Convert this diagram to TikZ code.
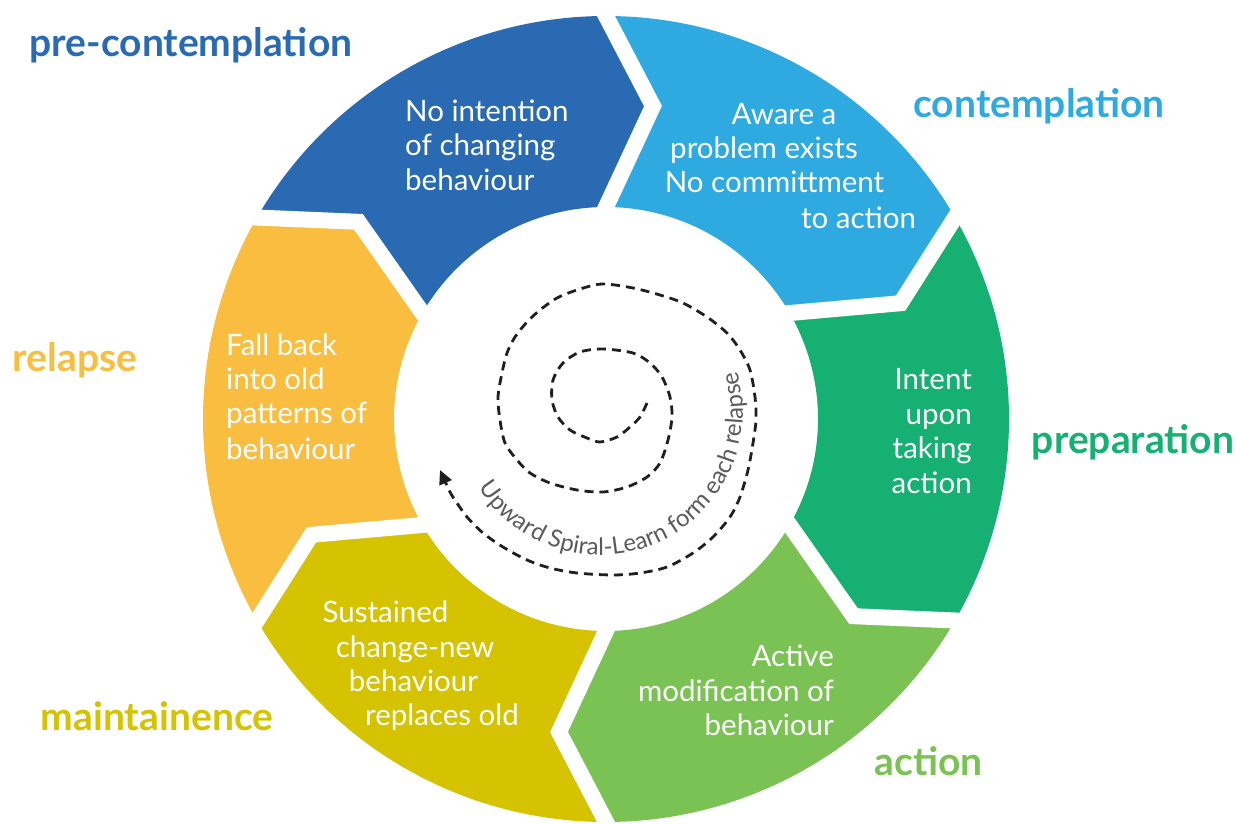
\documentclass[tikz,border=0pt]{standalone}
\usepackage{fontspec}
\setmainfont{Lato}
\usetikzlibrary{arrows.meta,decorations.text}
\definecolor{cPre}{RGB}{41,106,178}
\definecolor{cCon}{RGB}{46,170,225}
\definecolor{cPrep}{RGB}{21,176,114}
\definecolor{cAct}{RGB}{123,194,85}
\definecolor{cMain}{RGB}{213,194,0}
\definecolor{cRel}{RGB}{249,190,64}
\definecolor{spiralgray}{RGB}{90,90,92}
\begin{document}
\begin{tikzpicture}[x=1pt,y=1pt,
  body/.style={text=white, font=\fontsize{29.5}{34}\selectfont, inner sep=0pt},
  stage/.style={font=\fontsize{39}{44}\selectfont\bfseries, inner sep=0pt},
  gapline/.style={white, line width=16pt, line join=miter, miter limit=10},
  spiral/.style={black!88, line width=2.8pt, dash pattern=on 9pt off 6pt}]
\path[use as bounding box] (0,0) rectangle (1236,823);
% ring segments
\begin{scope}[shift={(606,404)}]
 \foreach \ps/\pe/\col in {60/0/cPre, 0/-60/cCon, -60/-120/cPrep, -120/-180/cAct, -180/-240/cMain, -240/-300/cRel}{
   \fill[\col] (90+\ps:403pt) arc[start angle=90+\ps, end angle=90+\pe, radius=403pt]
     -- (81.46+\pe:316.5pt) -- (90+\pe:212pt)
     arc[start angle=90+\pe, end angle=90+\ps, radius=212pt]
     -- (81.46+\ps:316.5pt) -- cycle;
 }
 \foreach \p in {0,-60,-120,-180,-240,-300}{
   \draw[gapline] (91.28+\p:421.1pt) -- (81.46+\p:316.5pt) -- (92.8+\p:192pt);
 }
\end{scope}
% spiral
\draw[spiral, -{Triangle[length=14pt,width=13pt]}] plot[smooth, tension=0.5] coordinates {
 (647,420) (640,406) (630,396) (617,386) (600,381) (587,385) (570,393) (558,406)
 (552,423) (553,443) (563,460) (580,471) (603,474) (633,470) (650,460) (662,446)
 (670,426) (672,406) (668,383) (660,360) (647,346) (627,336) (603,331) (577,333)
 (550,340) (530,350) (517,363) (505,380) (500,403) (498,426) (502,450) (507,470)
 (515,486) (527,501) (540,513) (557,525) (577,533) (602,539) (633,535) (660,528)
 (683,520) (707,506) (727,490) (740,473) (750,453) (755,426) (756,403) (753,380)
 (748,353) (740,326) (730,306) (713,286) (693,270) (667,256) (640,250) (613,248)
 (577,250) (550,255) (527,263) (503,276) (483,290) (467,306) (457,320) (450,331)
 (440,353)};
\path[decorate, decoration={text along path, text color=spiralgray, text align=left,
  text={|\fontsize{24}{24}\selectfont|Upward Spiral-Learn form each relapse}}]
  (600,411) ++(212:143pt) arc[start angle=212, end angle=390, radius=143pt];
% stage labels
\node[stage, text=cPre, anchor=base] (lPre) at (191,766) {pre-contemplation};
\node[stage, text=cCon, anchor=base] (lCon) at (1039,705) {contemplation};
\node[stage, text=cPrep, anchor=base] (lPrep) at (1133,370) {preparation};
\node[stage, text=cAct, anchor=base] (lAct) at (928.5,48) {action};
\node[stage, text=cMain, anchor=base] (lMain) at (157,93) {maintainence};
\node[stage, text=cRel, anchor=base] (lRel) at (75,451) {relapse};
% body texts
\node[body, anchor=base west] (b1) at (405,701) {No intention};
\node[body, anchor=base west] (b2) at (405,667) {of changing};
\node[body, anchor=base west] (b3) at (405,632) {behaviour};
\node[body, anchor=base] (c1) at (784,698) {Aware a};
\node[body, anchor=base] (c2) at (764,664) {problem exists};
\node[body, anchor=base] (c3) at (774.5,630) {No committment};
\node[body, anchor=base] (c4) at (858.5,594) {to action};
\node[body, anchor=base east] (p1) at (972,433) {Intent};
\node[body, anchor=base east] (p2) at (972,399) {upon};
\node[body, anchor=base east] (p3) at (972,365) {taking};
\node[body, anchor=base east] (p4) at (972,330) {action};
\node[body, anchor=base east] (a1) at (834,157) {Active};
\node[body, anchor=base east] (a2) at (834,122) {modification of};
\node[body, anchor=base east] (a3) at (834,88) {behaviour};
\node[body, anchor=base] (m1) at (385.5,201) {Sustained};
\node[body, anchor=base] (m2) at (415,166) {change-new};
\node[body, anchor=base] (m3) at (413.5,132) {behaviour};
\node[body, anchor=base] (m4) at (442,98) {replaces old};
\node[body, anchor=base west] (r1) at (226,467) {Fall back};
\node[body, anchor=base west] (r2) at (226,433) {into old};
\node[body, anchor=base west] (r3) at (226,400) {patterns of};
\node[body, anchor=base west] (r4) at (226,364) {behaviour};
\end{tikzpicture}
\end{document}
